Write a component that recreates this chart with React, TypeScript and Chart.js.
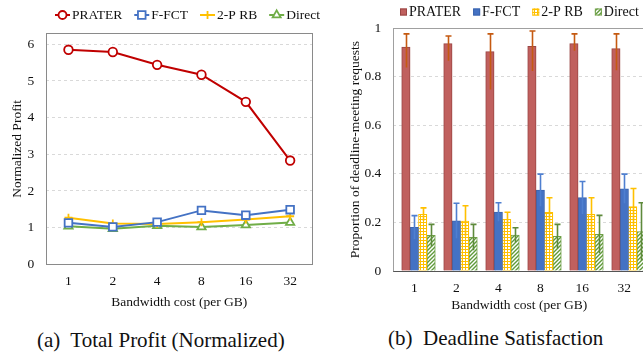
import React, { useEffect, useRef } from "react";
import { Chart, registerables } from "chart.js";
Chart.register(...registerables);

// ---------- data ----------
const costLabels = ["1", "2", "4", "8", "16", "32"];
const seriesNames = ["PRATER", "F-FCT", "2-P RB", "Direct"];

// (a) Total Profit (Normalized)
const profitPrater = [5.85, 5.79, 5.44, 5.17, 4.43, 2.83];
const profitFfct = [1.13, 1.02, 1.15, 1.47, 1.34, 1.49];
const profitTwoP = [1.27, 1.11, 1.1, 1.15, 1.22, 1.31];
const profitDirect = [1.04, 0.97, 1.05, 1.02, 1.07, 1.14];

// (b) Deadline Satisfaction
const satPrater = [0.923, 0.937, 0.904, 0.926, 0.937, 0.916];
const satPraterErrUp = [0.054, 0.031, 0.073, 0.063, 0.04, 0.061];
const satPraterErrDown = [0.085, 0.071, 0.156, 0.102, 0.03, 0.089];
const satFfct = [0.18, 0.207, 0.243, 0.333, 0.302, 0.339];
const satFfctErr = [0.048, 0.072, 0.038, 0.066, 0.067, 0.06];
const satTwoP = [0.233, 0.206, 0.213, 0.242, 0.233, 0.265];
const satTwoPErr = [0.027, 0.063, 0.029, 0.06, 0.069, 0.075];
const satDirect = [0.147, 0.139, 0.148, 0.143, 0.151, 0.162];
const satDirectErr = [0.045, 0.053, 0.03, 0.049, 0.078, 0.119];
const spacerSlot = [null, null, null, null, null, null];

const FONT = "'Liberation Serif', 'Times New Roman', serif";
const RED = "#C00000";
const BLUE = "#4472C4";
const YELLOW = "#FFC000";
const GREEN = "#70AD47";

function gridPattern(ctx: CanvasRenderingContext2D) {
  const c = document.createElement("canvas");
  c.width = 3; c.height = 3;
  const g = c.getContext("2d")!;
  g.fillStyle = "#ffffff"; g.fillRect(0, 0, 3, 3);
  g.fillStyle = YELLOW; g.fillRect(0, 0, 3, 1); g.fillRect(0, 0, 1, 3);
  return ctx.createPattern(c, "repeat")!;
}
function stripePattern(ctx: CanvasRenderingContext2D) {
  const c = document.createElement("canvas");
  c.width = 4; c.height = 4;
  const g = c.getContext("2d")!;
  g.fillStyle = "#ffffff"; g.fillRect(0, 0, 4, 4);
  g.strokeStyle = "#5f9a3a"; g.lineWidth = 1.4;
  g.beginPath();
  g.moveTo(-1, 5); g.lineTo(5, -1);
  g.moveTo(-1, 1); g.lineTo(1, -1);
  g.moveTo(3, 5); g.lineTo(5, 3);
  g.stroke();
  return ctx.createPattern(c, "repeat")!;
}

type LegendItem = { label: string; w: number; draw: (ctx: CanvasRenderingContext2D, x: number, y: number) => void };

function legendPlugin(items: LegendItem[], x0: number, y: number, font: string, gap: number) {
  return {
    id: "customLegend",
    afterDraw(chart: any) {
      const ctx: CanvasRenderingContext2D = chart.ctx;
      ctx.save();
      ctx.font = font;
      ctx.textBaseline = "middle";
      let x = x0;
      items.forEach((it) => {
        it.draw(ctx, x, y);
        x += it.w + 2;
        ctx.fillStyle = "#111";
        ctx.fillText(it.label, x, y + 0.5);
        x += ctx.measureText(it.label).width + gap;
      });
      ctx.restore();
    },
  };
}

function boxPlugin(color: string, bottomColor: string, after: boolean) {
  const draw = (chart: any) => {
    const { ctx, chartArea: a } = chart;
    ctx.save();
    ctx.lineWidth = 1;
    ctx.strokeStyle = color;
    ctx.strokeRect(Math.round(a.left) + 0.5, Math.round(a.top) + 0.5, Math.round(a.right - a.left), Math.round(a.bottom - a.top));
    ctx.strokeStyle = bottomColor;
    ctx.beginPath();
    ctx.moveTo(a.left, Math.round(a.bottom) + 0.5);
    ctx.lineTo(a.right, Math.round(a.bottom) + 0.5);
    ctx.stroke();
    ctx.restore();
  };
  return after
    ? { id: "plotBox", afterDatasetsDraw: draw }
    : { id: "plotBox", beforeDatasetsDraw: draw };
}

const errorBarPlugin = {
  id: "errorBars",
  afterDatasetsDraw(chart: any) {
    const ctx: CanvasRenderingContext2D = chart.ctx;
    const yScale = chart.scales.y;
    chart.data.datasets.forEach((ds: any, di: number) => {
      if (!ds.errUp) return;
      const meta = chart.getDatasetMeta(di);
      meta.data.forEach((bar: any, i: number) => {
        const v = ds.data[i];
        if (v == null) return;
        const x = Math.round(bar.x) + 0.5;
        const yt = yScale.getPixelForValue(v + ds.errUp[i]);
        const yb = yScale.getPixelForValue(v - ds.errDown[i]);
        ctx.save();
        ctx.strokeStyle = ds.errColor;
        ctx.lineWidth = 1.6;
        ctx.beginPath();
        ctx.moveTo(x, yt); ctx.lineTo(x, yb);
        ctx.moveTo(x - 3, yt); ctx.lineTo(x + 3, yt);
        ctx.stroke();
        ctx.restore();
      });
    });
  },
};

function lineMarker(color: string, kind: string) {
  return (ctx: CanvasRenderingContext2D, x: number, y: number) => {
    ctx.save();
    ctx.strokeStyle = color;
    ctx.lineWidth = 2;
    ctx.beginPath(); ctx.moveTo(x, y); ctx.lineTo(x + 15, y); ctx.stroke();
    const cx = x + 7.5;
    ctx.fillStyle = "#fff";
    ctx.lineWidth = 1.8;
    ctx.beginPath();
    if (kind === "circle") { ctx.arc(cx, y, 4, 0, Math.PI * 2); ctx.fill(); ctx.stroke(); }
    else if (kind === "rect") { ctx.rect(cx - 3.8, y - 3.8, 7.6, 7.6); ctx.fill(); ctx.stroke(); }
    else if (kind === "triangle") { ctx.moveTo(cx, y - 4.6); ctx.lineTo(cx + 4, y + 2.3); ctx.lineTo(cx - 4, y + 2.3); ctx.closePath(); ctx.fill(); ctx.stroke(); }
    else if (kind === "cross") { ctx.moveTo(cx, y - 4); ctx.lineTo(cx, y + 4); ctx.stroke(); }
    ctx.restore();
  };
}

function boxMarker(fill: any, border: string) {
  return (ctx: CanvasRenderingContext2D, x: number, y: number) => {
    ctx.save();
    ctx.fillStyle = fill;
    ctx.fillRect(x, y - 3.5, 7, 7);
    ctx.strokeStyle = border;
    ctx.lineWidth = 1;
    ctx.strokeRect(x + 0.5, y - 3, 6, 6);
    ctx.restore();
  };
}

const tickFont = { family: FONT, size: 13.5 };
const titleFont = { family: FONT, size: 13.5 };
const cleanNumber = (v: any) => String(Math.round(Number(v) * 10) / 10);

function ProfitChart() {
  const ref = useRef<HTMLCanvasElement>(null);
  useEffect(() => {
    const ctx = ref.current!.getContext("2d")!;
    const mk = (label: string, data: number[], color: string, style: string, radius: number) => ({
      label, data, borderColor: color, backgroundColor: "#ffffff",
      pointBackgroundColor: "#ffffff", pointBorderColor: color,
      pointStyle: style, pointRadius: radius, pointBorderWidth: 1.8, borderWidth: 2, tension: 0,
    });
    const chart = new Chart(ctx, {
      type: "line",
      data: {
        labels: costLabels,
        datasets: [
          mk(seriesNames[0], profitPrater, RED, "circle", 4.3),
          mk(seriesNames[1], profitFfct, BLUE, "rect", 5.4),
          mk(seriesNames[2], profitTwoP, YELLOW, "cross", 4),
          mk(seriesNames[3], profitDirect, GREEN, "triangle", 4.8),
        ],
      },
      options: {
        animation: false,
        responsive: false,
        maintainAspectRatio: false,
        layout: { padding: { top: 33.3, left: 0, right: 17.7, bottom: 0 } },
        plugins: { legend: { display: false }, tooltip: { enabled: false } },
        scales: {
          x: {
            offset: true,
            grid: { display: false },
            border: { display: false },
            ticks: { font: tickFont, color: "#111", padding: 1 },
            title: { display: true, text: "Bandwidth cost (per GB)", font: titleFont, color: "#111", padding: { top: 0, bottom: 9.5 } },
            afterFit: (s: any) => { s.height = 55.7; },
          },
          y: {
            min: 0, max: 6.3,
            ticks: { stepSize: 1, includeBounds: false, padding: 12, font: tickFont, color: "#111", callback: cleanNumber },
            grid: { color: "#d9d9d9", drawTicks: false },
            border: { display: false, dash: [3, 3] },
            title: { display: true, text: "Normalized Profit", font: titleFont, color: "#111", padding: { top: 8.9, bottom: 0 } },
            afterFit: (s: any) => { s.width = 46.3; },
          },
        },
      } as any,
      plugins: [
        boxPlugin("#8a8a8a", "#8a8a8a", false),
        legendPlugin(
          [
            { label: seriesNames[0], w: 15, draw: lineMarker(RED, "circle") },
            { label: seriesNames[1], w: 15, draw: lineMarker(BLUE, "rect") },
            { label: seriesNames[2], w: 15, draw: lineMarker(YELLOW, "cross") },
            { label: seriesNames[3], w: 15, draw: lineMarker(GREEN, "triangle") },
          ],
          55, 15, `13.5px ${FONT}`, 12
        ),
      ],
    });
    return () => chart.destroy();
  }, []);
  return <canvas ref={ref} width={330} height={320} style={{ position: "absolute", left: 0, top: 0, width: 330, height: 320 }} />;
}

function SatisfactionChart() {
  const ref = useRef<HTMLCanvasElement>(null);
  useEffect(() => {
    const ctx = ref.current!.getContext("2d")!;
    const grid = gridPattern(ctx);
    const stripes = stripePattern(ctx);
    const chart = new Chart(ctx, {
      type: "bar",
      data: {
        labels: costLabels,
        datasets: [
          { label: "", data: spacerSlot },
          { label: seriesNames[0], data: satPrater, backgroundColor: "#C0605E", borderColor: "#9A4644", borderWidth: 1,
            errUp: satPraterErrUp, errDown: satPraterErrDown, errColor: "#C55A11" },
          { label: seriesNames[1], data: satFfct, backgroundColor: BLUE, borderColor: "#3B64AE", borderWidth: 1,
            errUp: satFfctErr, errDown: satFfctErr, errColor: "#4F7FD0" },
          { label: seriesNames[2], data: satTwoP, backgroundColor: grid, borderColor: YELLOW, borderWidth: 1,
            errUp: satTwoPErr, errDown: satTwoPErr, errColor: YELLOW },
          { label: seriesNames[3], data: satDirect, backgroundColor: stripes, borderColor: "#70A048", borderWidth: 1,
            errUp: satDirectErr, errDown: satDirectErr, errColor: "#5E8A3C" },
        ],
      } as any,
      options: {
        animation: false,
        responsive: false,
        maintainAspectRatio: false,
        layout: { padding: { top: 28.3, left: 0, right: 14.7, bottom: 0 } },
        datasets: { bar: { barPercentage: 1, categoryPercentage: 1 } },
        plugins: { legend: { display: false }, tooltip: { enabled: false } },
        scales: {
          x: {
            grid: { display: false },
            border: { display: false },
            ticks: { font: tickFont, color: "#111", padding: 1 },
            title: { display: true, text: "Bandwidth cost (per GB)", font: titleFont, color: "#111", padding: { top: 0, bottom: 6.9 } },
            afterFit: (s: any) => { s.height = 49; },
          },
          y: {
            min: 0, max: 1,
            ticks: { stepSize: 0.2, padding: 12, font: tickFont, color: "#111", callback: cleanNumber },
            grid: { color: "#d9d9d9", drawTicks: false },
            border: { display: false, dash: [3, 3] },
            title: { display: true, text: "Proportion of deadline-meeting requests", font: titleFont, color: "#111", padding: { top: 16.9, bottom: 0 } },
            afterFit: (s: any) => { s.width = 63.3; },
          },
        },
      } as any,
      plugins: [
        errorBarPlugin,
        boxPlugin("#a0a0a0", "#555555", true),
        legendPlugin(
          [
            { label: seriesNames[0], w: 7, draw: boxMarker("#C0605E", "#9A4644") },
            { label: seriesNames[1], w: 7, draw: boxMarker(BLUE, "#3B64AE") },
            { label: seriesNames[2], w: 7, draw: boxMarker(grid, YELLOW) },
            { label: seriesNames[3], w: 7, draw: boxMarker(stripes, "#70A048") },
          ],
          70, 12, `14px ${FONT}`, 12
        ),
      ],
    });
    return () => chart.destroy();
  }, []);
  return <canvas ref={ref} width={330} height={320} style={{ position: "absolute", left: 330, top: 0, width: 330, height: 320 }} />;
}

export default function App() {
  const cap: React.CSSProperties = {
    position: "absolute", fontFamily: FONT, fontSize: 21, lineHeight: "24px",
    textAlign: "center", whiteSpace: "pre", color: "#111",
  };
  return (
    <div style={{ position: "fixed", left: 0, top: 0, width: 643, height: 352, overflow: "hidden", background: "#fff" }}>
      <ProfitChart />
      <SatisfactionChart />
      <div style={{ ...cap, left: 0, width: 321.6, top: 328 }}>{"(a)  Total Profit (Normalized)"}</div>
      <div style={{ ...cap, left: 385, width: 221.4, top: 326 }}>{"(b)  Deadline Satisfaction"}</div>
    </div>
  );
}
